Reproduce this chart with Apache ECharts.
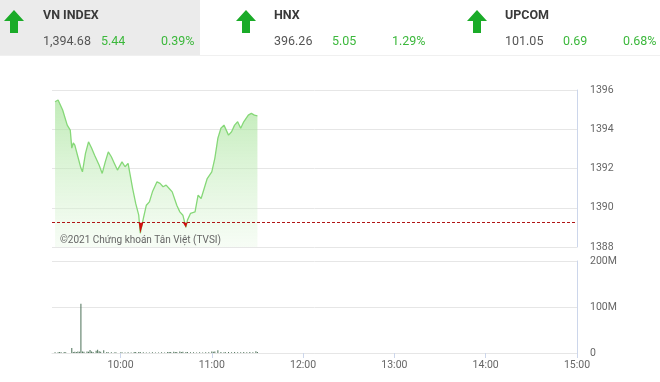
<!DOCTYPE html>
<html><head><meta charset="utf-8">
<script src="https://cdn.jsdelivr.net/npm/echarts@6/dist/echarts.min.js"></script>
<style>html,body{margin:0;padding:0;background:#fff}#c{width:660px;height:382px}</style>
</head><body><div id="c"></div>
<script>
// ---- data ----
const indexNames = ['VN INDEX', 'HNX', 'UPCOM'];
const indexValues = ['1,394.68', '396.26', '101.05'];
const indexChanges = ['5.44', '5.05', '0.69'];
const indexPercents = ['0.39%', '1.29%', '0.68%'];

const refPrice = 1389.24;
const priceTimes = ['9:17','9:19','9:22','9:25','9:27','9:28','9:29','9:30','9:32','9:34','9:35','9:37','9:39','9:41','9:43','9:46','9:48','9:50','9:52','9:54','9:56','9:58','10:01','10:03','10:05','10:06','10:08','10:10','10:12','10:13','10:15','10:17','10:19','10:21','10:24','10:26','10:28','10:30','10:32','10:34','10:37','10:39','10:41','10:43','10:44','10:46','10:49','10:51','10:53','10:55','10:57','11:00','11:02','11:04','11:06','11:08','11:11','11:13','11:15','11:17','11:19','11:21','11:24','11:26','11:28','11:30'];
const priceValues = [1395.40,1395.49,1394.98,1394.21,1393.96,1393.04,1393.30,1393.19,1392.60,1392.02,1391.83,1392.77,1393.36,1393.04,1392.68,1392.17,1391.75,1392.34,1392.85,1392.60,1392.26,1391.92,1392.34,1392.09,1392.26,1391.83,1390.98,1390.22,1389.62,1388.70,1389.45,1390.13,1390.30,1390.81,1391.32,1391.24,1391.07,1391.15,1390.98,1390.81,1390.13,1389.79,1389.62,1389.00,1389.37,1389.71,1389.79,1390.64,1390.47,1390.98,1391.49,1391.83,1392.52,1393.54,1394.05,1394.21,1393.70,1393.87,1394.21,1394.38,1394.05,1394.38,1394.72,1394.81,1394.72,1394.68];

const volTimes = ['9:17','9:19','9:20','9:21','9:23','9:24','9:28','9:29','9:30','9:31','9:32','9:33','9:34','9:35','9:36','9:38','9:39','9:40','9:41','9:42','9:44','9:45','9:46','9:47','9:49','9:51','9:52','9:54','9:56','9:57','10:00','10:01','10:03','10:05','10:07','10:09','10:10','10:12','10:13','10:15','10:17','10:19','10:21','10:23','10:25','10:27','10:29','10:31','10:32','10:33','10:35','10:36','10:37','10:39','10:40','10:41','10:43','10:44','10:46','10:48','10:50','10:52','10:54','10:56','10:58','11:00','11:01','11:02','11:04','11:06','11:08','11:09','11:11','11:13','11:15','11:17','11:19','11:21','11:23','11:25','11:27','11:29','11:30'];
const volValues = [1.5,1.5,2,1.5,2,1.5,11,2,2.5,2,3,2.5,107,3,2.5,3,2.5,6.5,3,2,5,7,4,2.5,6,2,1.5,1.5,1,1.5,1,1.5,1,1.5,1,2,2,2,2,1.5,1,1,1.5,1,1,1.5,1,2,2,2,2.5,2,2,3,2,2.5,2,2,1.5,1.5,1,1.5,1,1.5,1.5,3,2.5,3,6,2,1.5,1.5,2,1.5,2,1.5,1.5,2,1.5,2,1.5,4,2]; // millions

const hourTicks = [600, 660, 720, 780, 840, 900];
const priceTicks = [1388, 1396, 2];
const volTicks = [0, 200, 100];
const copyright = '©2021 Chứng khoán Tân Việt (TVSI)';

// ---- helpers ----
function toMin(s){ const p = s.split(':'); return (+p[0])*60 + (+p[1]); }
function fmtMin(m){ const h = Math.floor(m/60), mm = m%60; return h + ':' + (mm<10?'0':'') + mm; }
const priceData = priceTimes.map((t,i)=>[toMin(t), priceValues[i]]);
const dipData = priceTimes.map((t,i)=>[toMin(t), Math.min(priceValues[i], refPrice)]);
const volData = volTimes.map((t,i)=>[toMin(t), volValues[i]]);

const green = '#3cb83c';
const arrowColor = '#1aab28';
const font = "'Roboto',sans-serif";
const headerX = [4, 236, 467];
const textX = [43, 274, 505];
const graphics = [
  {type:'rect', shape:{x:0,y:0,width:200,height:55}, style:{fill:'#ebebeb'}, silent:true},
  {type:'rect', shape:{x:0,y:55,width:660,height:1}, style:{fill:'#f0f0f0'}, silent:true}
];
for (let i=0;i<3;i++){
  const ax = headerX[i], ay = 10, w = 20, hHead = 11, hAll = 23, sw = 8;
  graphics.push({type:'polygon', silent:true, shape:{points:[
    [ax, ay+hHead],[ax+w/2, ay],[ax+w, ay+hHead],[ax+w/2+sw/2, ay+hHead],[ax+w/2+sw/2, ay+hAll],[ax+w/2-sw/2, ay+hAll],[ax+w/2-sw/2, ay+hHead]
  ]}, style:{fill:arrowColor}});
  const tx = textX[i];
  graphics.push({type:'text', x:tx, y:16, silent:true, style:{text:indexNames[i], fill:'#3a3a3a', font:'bold 12.5px '+font, textVerticalAlign:'middle'}});
  graphics.push({type:'text', x:tx, y:42, silent:true, style:{text:indexValues[i], fill:'#555', font:'12.5px '+font, textVerticalAlign:'middle'}});
  graphics.push({type:'text', x:tx+58, y:42, silent:true, style:{text:indexChanges[i], fill:green, font:'12.5px '+font, textVerticalAlign:'middle'}});
  graphics.push({type:'text', x:tx+118, y:42, silent:true, style:{text:indexPercents[i], fill:green, font:'12.5px '+font, textVerticalAlign:'middle'}});
}
graphics.push({type:'text', x:60, y:240, silent:true, z:100, style:{text:copyright, fill:'#666', font:"10px 'Roboto',sans-serif", textVerticalAlign:'middle'}});

const axisGray = '#ccd6eb';
const gridGray = '#e6e6e6';
const chart = echarts.init(document.getElementById('c'), null, {renderer:'canvas'});
chart.setOption({
  animation:false,
  graphic: graphics,
  grid:[
    {left:52, right:83, top:90, height:157},
    {left:52, right:83, top:261, height:92}
  ],
  xAxis:[
    {type:'value', gridIndex:0, min:555, max:900, axisLine:{show:false}, axisTick:{show:false}, axisLabel:{show:false}, splitLine:{show:false}},
    {type:'value', gridIndex:1, min:555, max:900,
     axisLine:{show:true, lineStyle:{color:gridGray}},
     axisTick:{show:true, customValues:hourTicks, length:5, lineStyle:{color:axisGray}},
     axisLabel:{customValues:hourTicks, formatter:v=>fmtMin(v), color:'#666', fontSize:10.5, fontFamily:'Roboto', margin:7},
     splitLine:{show:false}}
  ],
  yAxis:[
    {type:'value', gridIndex:0, position:'right', min:priceTicks[0], max:priceTicks[1], interval:priceTicks[2],
     axisLine:{show:true, lineStyle:{color:axisGray}}, axisTick:{show:false},
     axisLabel:{color:'#666', fontSize:10.5, fontFamily:'Roboto', margin:13, formatter:v=>String(v)},
     splitLine:{show:true, lineStyle:{color:gridGray}}},
    {type:'value', gridIndex:1, position:'right', min:volTicks[0], max:volTicks[1], interval:volTicks[2],
     axisLine:{show:true, lineStyle:{color:axisGray}}, axisTick:{show:false},
     axisLabel:{color:'#666', fontSize:10.5, fontFamily:'Roboto', margin:13, formatter:v=> v===0 ? '0' : v+'M'},
     splitLine:{show:true, lineStyle:{color:gridGray}}}
  ],
  series:[
    {type:'line', xAxisIndex:0, yAxisIndex:0, data:priceData, symbol:'none', smooth:false,
     lineStyle:{color:'#86d878', width:1.3},
     areaStyle:{origin:'start', color:new echarts.graphic.LinearGradient(0,0,0,1,[{offset:0,color:'rgba(150,222,135,0.85)'},{offset:1,color:'rgba(235,249,232,0.6)'}])},
     markLine:{silent:true, symbol:'none', label:{show:false}, lineStyle:{color:'#b01515', type:[3,2], width:1},
       data:[{yAxis:refPrice}]},
     z:2},
    {type:'line', xAxisIndex:0, yAxisIndex:0, data:dipData, symbol:'none',
     lineStyle:{width:0, opacity:0},
     areaStyle:{origin:refPrice, color:'#d01010', opacity:1}, z:3},
    {type:'bar', xAxisIndex:1, yAxisIndex:1, data:volData, barWidth:1, itemStyle:{color:'#4b7057'}}
  ]
});
</script></body></html>
